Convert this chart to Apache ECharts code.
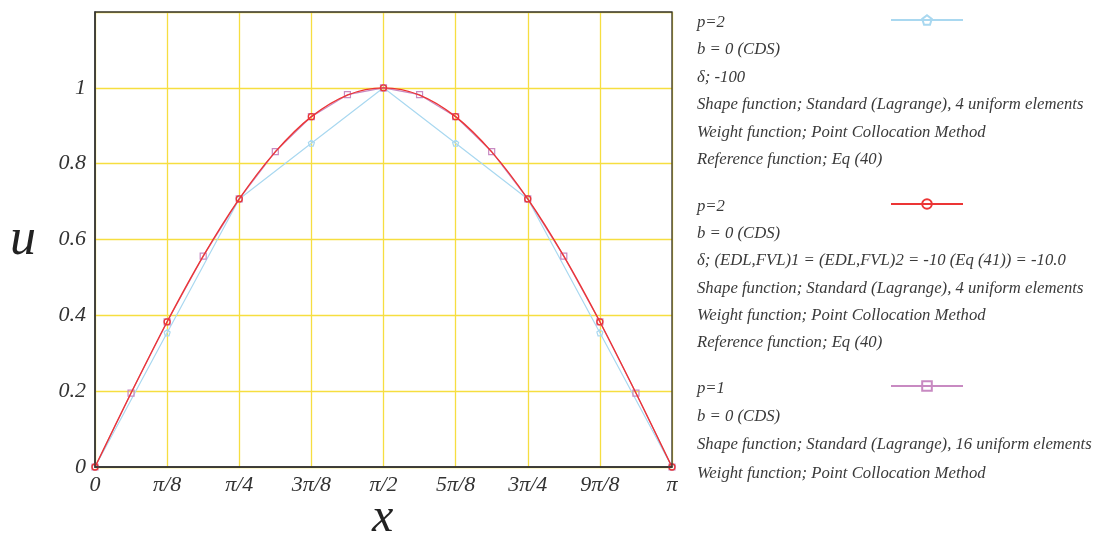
<!DOCTYPE html>
<html><head><meta charset="utf-8">
<script src="https://cdn.jsdelivr.net/npm/echarts@6/dist/echarts.min.js"></script>
<style>html,body{margin:0;padding:0;background:#fff}#c{width:1094px;height:534px}</style>
</head><body><div id="c"></div>
<script>
const P = Math.PI;
// x positions (radians)
const xNodes4 = [0, P/8, P/4, 3*P/8, P/2, 5*P/8, 3*P/4, 7*P/8, P];
const xNodes16 = [0, P/16, P/8, 3*P/16, P/4, 5*P/16, 3*P/8, 7*P/16, P/2, 9*P/16, 5*P/8, 11*P/16, 3*P/4, 13*P/16, 7*P/8, 15*P/16, P];
// series values
const blueVals = [0, 0.354, 0.707, 0.854, 1.0, 0.854, 0.707, 0.354, 0];
const redVals = [0, 0.195, 0.383, 0.556, 0.707, 0.831, 0.924, 0.981, 1.0, 0.981, 0.924, 0.831, 0.707, 0.556, 0.383, 0.195, 0];
const purpleVals = [0, 0.195, 0.383, 0.556, 0.707, 0.832, 0.924, 0.982, 1.0, 0.982, 0.924, 0.832, 0.707, 0.556, 0.383, 0.195, 0];
const xTickLabels = ['0', 'π/8', 'π/4', '3π/8', 'π/2', '5π/8', '3π/4', '9π/8', 'π'];
const yTickLabels = ['0', '0.2', '0.4', '0.6', '0.8', '1', ''];
const legendNames = ['p=2 (a)', 'p=2 (b)', 'p=1'];
const legendText = [
  ['p=2', 'b = 0 (CDS)', 'δ; -100', 'Shape function; Standard (Lagrange), 4 uniform elements', 'Weight function; Point Collocation Method', 'Reference function; Eq (40)'],
  ['p=2', 'b = 0 (CDS)', 'δ; (EDL,FVL)1 = (EDL,FVL)2 = -10 (Eq (41)) = -10.0', 'Shape function; Standard (Lagrange), 4 uniform elements', 'Weight function; Point Collocation Method', 'Reference function; Eq (40)'],
  ['p=1', 'b = 0 (CDS)', 'Shape function; Standard (Lagrange), 16 uniform elements', 'Weight function; Point Collocation Method']
];

const colors = ['#a9d8f0', '#ec3535', '#c88ac2'];
const FONT = '"Liberation Serif", "DejaVu Serif", serif';

const chart = echarts.init(document.getElementById('c'), null, {renderer: 'canvas'});

const G = {left: 95, right: 422, top: 12, bottom: 67, W: 1094, H: 534};

const blockTops = [21, 205, 387];
const lineGap = [27.5, 27.3, 28.3];
const graphics = [];
legendText.forEach((lines, b) => {
  lines.forEach((t, i) => {
    graphics.push({
      type: 'text', left: 697, top: blockTops[b] + i * lineGap[b] - 7,
      style: {text: t, fontStyle: 'italic', fontSize: 16.7, fontFamily: FONT, fill: '#3a3a3a'}
    });
  });
});
graphics.push({type: 'text', left: 10, top: 214, style: {text: 'u', fontStyle: 'italic', fontSize: 52, fontFamily: FONT, fill: '#222'}});
graphics.push({type: 'text', left: 372, top: 494, style: {text: 'x', fontStyle: 'italic', fontSize: 48, fontFamily: FONT, fill: '#222'}});
// plot frame
graphics.push({
  type: 'rect', z: 50, silent: true,
  shape: {x: G.left, y: G.top, width: G.W - G.left - G.right, height: G.H - G.top - G.bottom},
  style: {fill: 'none', stroke: '#333', lineWidth: 1.3}
});

function mk(xs, ys) { return xs.map((x, i) => [x, ys[i]]); }

const redData = mk(xNodes16, redVals).map((d, i) => i % 2 === 0 ? {value: d} : {value: d, symbol: 'none'});

chart.setOption({
  animation: false,
  backgroundColor: '#fff',
  grid: {left: G.left, right: G.right, top: G.top, bottom: G.bottom},
  xAxis: {
    type: 'value', min: 0, max: P, interval: P/8,
    axisLine: {show: true, onZero: false, lineStyle: {color: '#333', width: 1.5}},
    axisTick: {show: false},
    splitLine: {show: true, lineStyle: {color: '#f6de40', width: 1.3}},
    axisLabel: {
      formatter: v => xTickLabels[Math.round(v * 8 / P)] || '',
      fontFamily: FONT, fontStyle: 'italic', fontSize: 22, color: '#333', margin: 7,
      showMinLabel: true, showMaxLabel: true
    }
  },
  yAxis: {
    type: 'value', min: 0, max: 1.2, interval: 0.2,
    axisLine: {show: true, lineStyle: {color: '#333', width: 1.5}},
    axisTick: {show: false},
    splitLine: {show: true, lineStyle: {color: '#f6de40', width: 1.3}},
    axisLabel: {
      formatter: v => yTickLabels[Math.round(v / 0.2)] || '',
      fontFamily: FONT, fontStyle: 'italic', fontSize: 22, color: '#333', margin: 9
    }
  },
  legend: [0, 1, 2].map(k => ({
    data: [legendNames[k]], left: 890, top: blockTops[k] - 7, itemWidth: 72, itemHeight: 12,
    formatter: () => '', textStyle: {fontSize: 1}, padding: 0, itemGap: 0, selectedMode: false
  })),
  graphic: graphics,
  series: [
    {
      name: legendNames[0], type: 'line', data: mk(xNodes4, blueVals),
      symbol: 'path://M0,-1 L0.951,-0.309 L0.588,0.809 L-0.588,0.809 L-0.951,-0.309 Z', symbolSize: 6,
      lineStyle: {color: colors[0], width: 1.2},
      itemStyle: {color: 'rgba(255,255,255,0)', borderColor: colors[0], borderWidth: 1.2},
      z: 2
    },
    {
      name: legendNames[1], type: 'line', data: redData, smooth: 0.3,
      symbol: 'circle', symbolSize: 6,
      lineStyle: {color: colors[1], width: 1.4},
      itemStyle: {color: 'rgba(255,255,255,0)', borderColor: colors[1], borderWidth: 1.3},
      z: 4
    },
    {
      name: legendNames[2], type: 'line', data: mk(xNodes16, purpleVals),
      symbol: 'rect', symbolSize: 6,
      lineStyle: {color: colors[2], width: 1.2},
      itemStyle: {color: 'rgba(255,255,255,0)', borderColor: colors[2], borderWidth: 1.2},
      z: 3
    }
  ]
});
</script></body></html>
